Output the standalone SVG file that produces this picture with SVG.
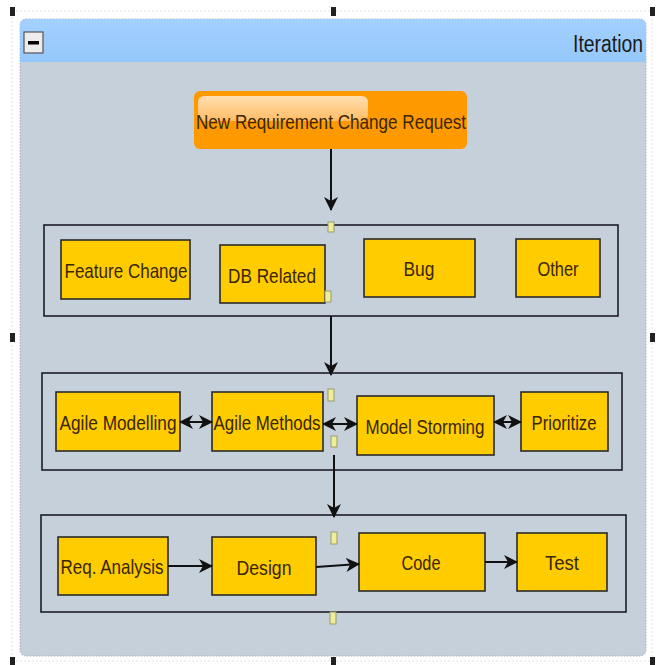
<svg xmlns="http://www.w3.org/2000/svg" width="663" height="665" viewBox="0 0 663 665">
<defs>
<style>
.lbl{font-family:"Liberation Sans",Arial,sans-serif;font-size:21px;fill:#3a2600;text-anchor:middle;dominant-baseline:central}
.node{fill:#FFCC00;stroke:#2a2a2a;stroke-width:1.6}
.grp{fill:none;stroke:#1c1c28;stroke-width:1.6}
.con{stroke:#111;stroke-width:2;fill:none}
.hdl{fill:#EEEE99;stroke:#9a9a70;stroke-width:1}
.sel{fill:#222}
</style>
<marker id="ah" viewBox="0 0 14 14" refX="13" refY="7" markerWidth="14" markerHeight="14" markerUnits="userSpaceOnUse" orient="auto-start-reverse">
<path d="M0,0 L14,7 L0,14 L4,7 Z" fill="#111"/>
</marker>
<linearGradient id="hdr" x1="0" y1="0" x2="0" y2="1">
<stop offset="0" stop-color="#A3D0FF"/>
<stop offset="1" stop-color="#95C8FA"/>
</linearGradient>
<linearGradient id="gloss" x1="0" y1="0" x2="0" y2="1">
<stop offset="0" stop-color="#FFE6C4"/>
<stop offset="1" stop-color="#FFC070"/>
</linearGradient>
</defs>
<rect width="663" height="665" fill="#ffffff"/>
<rect x="12" y="11" width="640" height="650" fill="none" stroke="#e4e4ec" stroke-width="1" stroke-dasharray="2,2"/>
<g id="iteration">
<rect x="20" y="19" width="626" height="637" rx="6" fill="#C5D0DA" stroke="#a8b0bb" stroke-width="1" stroke-dasharray="1.5,1.5"/>
<path d="M20,25 a6,6 0 0 1 6,-6 h614 a6,6 0 0 1 6,6 v37 h-626 Z" fill="url(#hdr)"/>
<rect x="24" y="32" width="19" height="21" fill="#ECECEC" stroke="#555" stroke-width="1.2"/>
<rect x="28" y="41" width="11" height="3.5" fill="#000"/>
<text x="643" y="44" style="font-family:'Liberation Sans',Arial,sans-serif;font-size:23px;fill:#1a1a1a;text-anchor:end;dominant-baseline:central" textLength="70" lengthAdjust="spacingAndGlyphs">Iteration</text>
</g>
<g id="sel-handles">
<rect class="sel" x="10" y="7" width="5" height="9"/>
<rect class="sel" x="331" y="7" width="5" height="9"/>
<rect class="sel" x="650" y="7" width="5" height="9"/>
<rect class="sel" x="10" y="333" width="5" height="9"/>
<rect class="sel" x="650" y="333" width="5" height="9"/>
<rect class="sel" x="10" y="657" width="5" height="8"/>
<rect class="sel" x="331" y="657" width="5" height="8"/>
<rect class="sel" x="650" y="657" width="5" height="8"/>
</g>
<g id="new-request">
<rect x="194" y="91" width="273" height="58" rx="6" fill="#FF9900"/>
<rect x="198" y="96" width="170" height="25" rx="6" fill="url(#gloss)" opacity="0.9"/>
<text class="lbl" x="331" y="121" textLength="270" lengthAdjust="spacingAndGlyphs">New Requirement Change Request</text>
</g>
<g id="group-types"><rect class="grp" x="44" y="225" width="574" height="91"/></g>
<g id="group-agile"><rect class="grp" x="42" y="373" width="580" height="97"/></g>
<g id="group-process"><rect class="grp" x="41" y="515" width="585" height="97"/></g>
<g id="feature-change"><rect class="node" x="61" y="240" width="129" height="59"/><text class="lbl" x="126" y="270" textLength="123" lengthAdjust="spacingAndGlyphs">Feature Change</text></g>
<g id="db-related"><rect class="node" x="220" y="245" width="105" height="58"/><text class="lbl" x="272" y="275" textLength="88" lengthAdjust="spacingAndGlyphs">DB Related</text></g>
<g id="bug"><rect class="node" x="364" y="239" width="111" height="58"/><text class="lbl" x="419" y="268" textLength="31" lengthAdjust="spacingAndGlyphs">Bug</text></g>
<g id="other"><rect class="node" x="516" y="239" width="84" height="58"/><text class="lbl" x="558" y="268" textLength="41" lengthAdjust="spacingAndGlyphs">Other</text></g>
<g id="agile-modelling"><rect class="node" x="56" y="392" width="124" height="59"/><text class="lbl" x="118" y="422" textLength="117" lengthAdjust="spacingAndGlyphs">Agile Modelling</text></g>
<g id="agile-methods"><rect class="node" x="212" y="392" width="111" height="59"/><text class="lbl" x="267" y="422" textLength="107" lengthAdjust="spacingAndGlyphs">Agile Methods</text></g>
<g id="model-storming"><rect class="node" x="357" y="396" width="137" height="59"/><text class="lbl" x="425" y="426" textLength="119" lengthAdjust="spacingAndGlyphs">Model Storming</text></g>
<g id="prioritize"><rect class="node" x="521" y="392" width="87" height="59"/><text class="lbl" x="564" y="422" textLength="65" lengthAdjust="spacingAndGlyphs">Prioritize</text></g>
<g id="req-analysis"><rect class="node" x="58" y="537" width="110" height="58"/><text class="lbl" x="112" y="566" textLength="103" lengthAdjust="spacingAndGlyphs">Req. Analysis</text></g>
<g id="design"><rect class="node" x="212" y="537" width="104" height="58"/><text class="lbl" x="264" y="567" textLength="55" lengthAdjust="spacingAndGlyphs">Design</text></g>
<g id="code"><rect class="node" x="359" y="533" width="126" height="58"/><text class="lbl" x="421" y="562" textLength="39" lengthAdjust="spacingAndGlyphs">Code</text></g>
<g id="test"><rect class="node" x="517" y="533" width="90" height="58"/><text class="lbl" x="562" y="562" textLength="34" lengthAdjust="spacingAndGlyphs">Test</text></g>
<g id="connectors">
<line class="con" x1="331" y1="149" x2="331" y2="210" marker-end="url(#ah)"/>
<line class="con" x1="331" y1="316" x2="331" y2="375" marker-end="url(#ah)"/>
<line class="con" x1="334" y1="455" x2="334" y2="517" marker-end="url(#ah)"/>
<line class="con" x1="180" y1="422" x2="212" y2="422" marker-start="url(#ah)" marker-end="url(#ah)"/>
<line class="con" x1="323" y1="424" x2="357" y2="424" marker-start="url(#ah)" marker-end="url(#ah)"/>
<line class="con" x1="494" y1="422" x2="521" y2="422" marker-start="url(#ah)" marker-end="url(#ah)"/>
<line class="con" x1="168" y1="566" x2="212" y2="566" marker-end="url(#ah)"/>
<line class="con" x1="316" y1="567" x2="359" y2="564" marker-end="url(#ah)"/>
<line class="con" x1="485" y1="562" x2="517" y2="562" marker-end="url(#ah)"/>
</g>
<g id="port-handles">
<rect class="hdl" x="328" y="222" width="6" height="10"/>
<rect class="hdl" x="325" y="291" width="6" height="11"/>
<rect class="hdl" x="328" y="389" width="6" height="12"/>
<rect class="hdl" x="331" y="436" width="6" height="11"/>
<rect class="hdl" x="331" y="532" width="6" height="12"/>
<rect class="hdl" x="330" y="612" width="6" height="12"/>
</g>
</svg>
